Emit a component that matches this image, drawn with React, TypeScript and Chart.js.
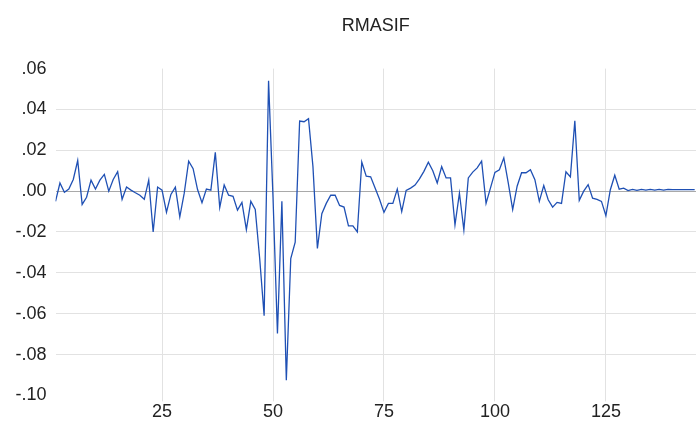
import React, { useEffect, useRef } from "react";
import { Chart, registerables } from "chart.js";

Chart.register(...registerables);

const TITLE = "RMASIF";
const X_TICKS = [25, 50, 75, 100, 125];
const Y_MIN = -0.1;
const Y_MAX = 0.06;
const Y_STEP = 0.02;
const X_MIN = 1;
const X_MAX = 145.3;

const VALUES = [
  -0.005, 0.004, -0.0005, 0.001, 0.0057, 0.015, -0.0065, -0.003, 0.0054, 0.001,
  0.0054, 0.0082, 0.0, 0.0057, 0.0095, -0.004, 0.002, 0.0005, -0.0008, -0.002,
  -0.004, 0.0054, -0.02, 0.002, 0.0005, -0.0103, -0.0016, 0.002, -0.0126, -0.001,
  0.0147, 0.011, 0.0008, -0.0057, 0.001, 0.0005, 0.019, -0.008, 0.003, -0.002,
  -0.0025, -0.0093, -0.0055, -0.0188, -0.005, -0.009, -0.033, -0.061, 0.054, -0.003,
  -0.0697, -0.005, -0.0926, -0.033, -0.025, 0.0343, 0.034, 0.0355, 0.012, -0.028,
  -0.011, -0.006, -0.002, -0.002, -0.007, -0.0078, -0.017, -0.017, -0.02, 0.0143,
  0.0073, 0.007, 0.0015, -0.004, -0.0104, -0.006, -0.006, 0.001, -0.01, 0.0004,
  0.0015, 0.003, 0.006, 0.0097, 0.0142, 0.01, 0.004, 0.012, 0.0065, 0.0065,
  -0.0165, -0.001, -0.019, 0.0065, 0.0093, 0.0114, 0.0147, -0.006, 0.0016, 0.0092,
  0.0105, 0.0163, 0.004, -0.009, 0.0024, 0.009, 0.009, 0.0105, 0.0056, -0.005,
  0.0027, -0.0042, -0.0078, -0.0055, -0.006, 0.0095, 0.007, 0.0345, -0.0045, 0.0,
  0.0032, -0.0034, -0.004, -0.005, -0.012, 0.0007, 0.0078, 0.001, 0.0015, 0.0003,
  0.0009, 0.0004, 0.0009, 0.0005, 0.0009, 0.0005, 0.0009, 0.0005, 0.0009, 0.0007,
  0.0007, 0.0007, 0.0007, 0.0007, 0.0007,
];

const FONT_FAMILY = "'Liberation Sans', Arial, sans-serif";

function fmtY(v: number): string {
  return Number(v).toFixed(2).replace(/^(-?)0\./, "$1.");
}

export default function App() {
  const ref = useRef<HTMLCanvasElement>(null);
  useEffect(() => {
    document.body.style.margin = "0";
    const points = VALUES.map((v, i) => ({ x: i + 1, y: v }));
    const chart = new Chart(ref.current as HTMLCanvasElement, {
      type: "line",
      data: {
        datasets: [
          {
            data: points,
            borderColor: "#1f50b4",
            borderWidth: 1.3,
            pointRadius: 0,
            tension: 0,
            fill: false,
          },
        ],
      },
      options: {
        responsive: false,
        animation: false,
        layout: { padding: { left: 6.5, right: 0, top: 0, bottom: 0 } },
        plugins: {
          legend: { display: false },
          tooltip: { enabled: false },
          title: {
            display: true,
            text: TITLE,
            fullSize: false,
            color: "#222",
            font: { family: FONT_FAMILY, size: 18, weight: "normal" },
            padding: { top: 15, bottom: 32 },
          },
        },
        scales: {
          x: {
            type: "linear",
            min: X_MIN,
            max: X_MAX,
            afterBuildTicks: (s: any) => {
              s.ticks = X_TICKS.map((v) => ({ value: v }));
            },
            grid: { color: "#e2e2e2", tickColor: "#e2e2e2", tickLength: 6, drawTicks: true },
            border: { display: false },
            ticks: {
              color: "#222",
              font: { family: FONT_FAMILY, size: 18 },
              padding: 0,
              maxRotation: 0,
              autoSkip: false,
            },
          },
          y: {
            min: Y_MIN,
            max: Y_MAX,
            ticks: {
              stepSize: Y_STEP,
              callback: (v: any) => fmtY(v),
              color: "#222",
              font: { family: FONT_FAMILY, size: 18 },
              padding: 9,
            },
            grid: {
              drawTicks: false,
              color: (ctx: any) => {
                const v = ctx.tick ? ctx.tick.value : 1;
                if (Math.abs(v) < 1e-9) return "#a9a9a9";
                if (v > Y_MAX - 1e-9 || v < Y_MIN + 1e-9) return "rgba(0,0,0,0)";
                return "#e2e2e2";
              },
            },
            border: { display: false },
          },
        },
      },
    });
    return () => chart.destroy();
  }, []);
  return <canvas ref={ref} width={696} height={423} style={{ display: "block" }} />;
}
